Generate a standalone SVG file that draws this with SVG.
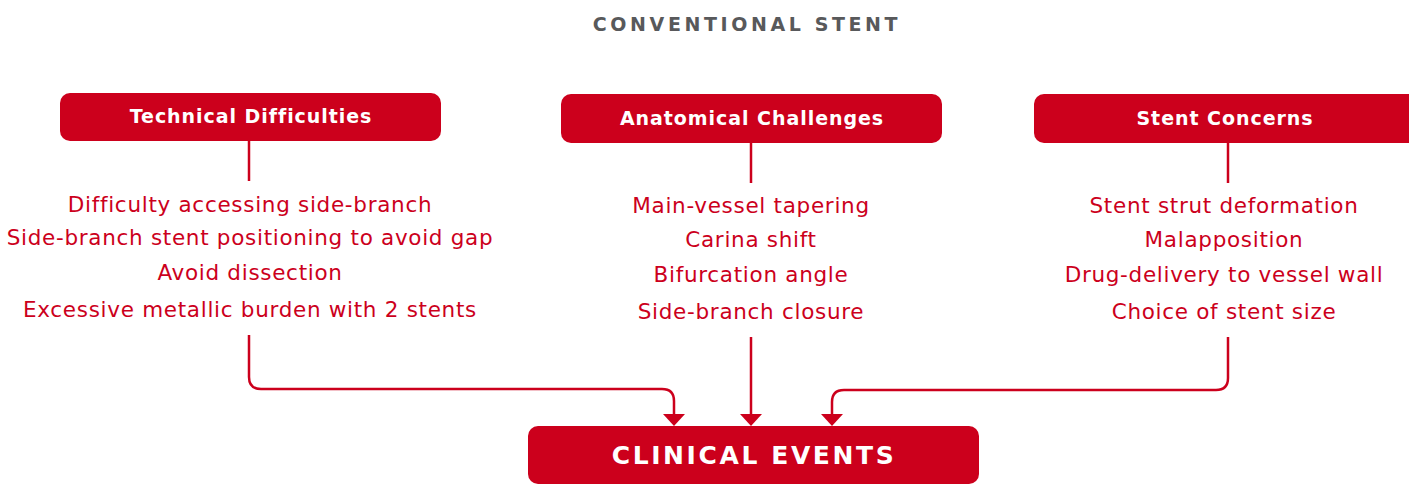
<svg xmlns="http://www.w3.org/2000/svg" width="1409" height="485" viewBox="0 0 1409 485">
<style>
.title{font-family:"DejaVu Sans",sans-serif;font-size:19px;font-weight:bold;fill:#58595b;text-anchor:middle;letter-spacing:3.6px}
.hbox{fill:#cc001c}
.htxt{font-family:"DejaVu Sans",sans-serif;font-size:19px;font-weight:bold;fill:#fff;text-anchor:middle;letter-spacing:0.95px}
.item{font-family:"DejaVu Sans",sans-serif;font-size:21.5px;fill:#cc001c;text-anchor:middle;letter-spacing:0.7px}
.big{font-family:"DejaVu Sans",sans-serif;font-size:25px;font-weight:bold;fill:#fff;text-anchor:middle;letter-spacing:2.6px}
.ln{fill:none;stroke:#cc001c;stroke-width:2.5}
</style>
<text class="title" x="747" y="31">CONVENTIONAL STENT</text>
<g id="technical">
<rect class="hbox" x="60" y="93" width="381" height="48" rx="10"/>
<text class="htxt" x="251" y="123">Technical Difficulties</text>
<text class="item" x="250" y="212">Difficulty accessing side-branch</text>
<text class="item" x="250" y="245">Side-branch stent positioning to avoid gap</text>
<text class="item" x="250" y="280">Avoid dissection</text>
<text class="item" x="250" y="317">Excessive metallic burden with 2 stents</text>
</g>
<g id="anatomical">
<rect class="hbox" x="561" y="94" width="381" height="49" rx="10"/>
<text class="htxt" x="752" y="125">Anatomical Challenges</text>
<text class="item" x="751" y="213">Main-vessel tapering</text>
<text class="item" x="751" y="247">Carina shift</text>
<text class="item" x="751" y="282">Bifurcation angle</text>
<text class="item" x="751" y="319">Side-branch closure</text>
</g>
<g id="stent">
<rect class="hbox" x="1034" y="94" width="385" height="49" rx="10"/>
<text class="htxt" x="1225" y="125">Stent Concerns</text>
<text class="item" x="1224" y="213">Stent strut deformation</text>
<text class="item" x="1224" y="247">Malapposition</text>
<text class="item" x="1224" y="282">Drug-delivery to vessel wall</text>
<text class="item" x="1224" y="319">Choice of stent size</text>
</g>
<g id="clinical">
<rect class="hbox" x="528" y="426" width="451" height="58" rx="10"/>
<text class="big" x="754" y="464">CLINICAL EVENTS</text>
</g>
<g id="connectors">
<line class="ln" x1="249" y1="141" x2="249" y2="181"/>
<line class="ln" x1="751" y1="143" x2="751" y2="183"/>
<line class="ln" x1="1228" y1="143" x2="1228" y2="183"/>
<path class="ln" d="M249,335 V377 Q249,389 261,389 H662 Q674,389 674,401 V415"/>
<path class="ln" d="M751,337 V415"/>
<path class="ln" d="M1228,337 V378 Q1228,390 1216,390 H844 Q832,390 832,402 V415"/>
<path d="M663,414 H685 L674,426 Z" fill="#cc001c"/>
<path d="M740,414 H762 L751,426 Z" fill="#cc001c"/>
<path d="M821,414 H843 L832,426 Z" fill="#cc001c"/>
</g>
</svg>
